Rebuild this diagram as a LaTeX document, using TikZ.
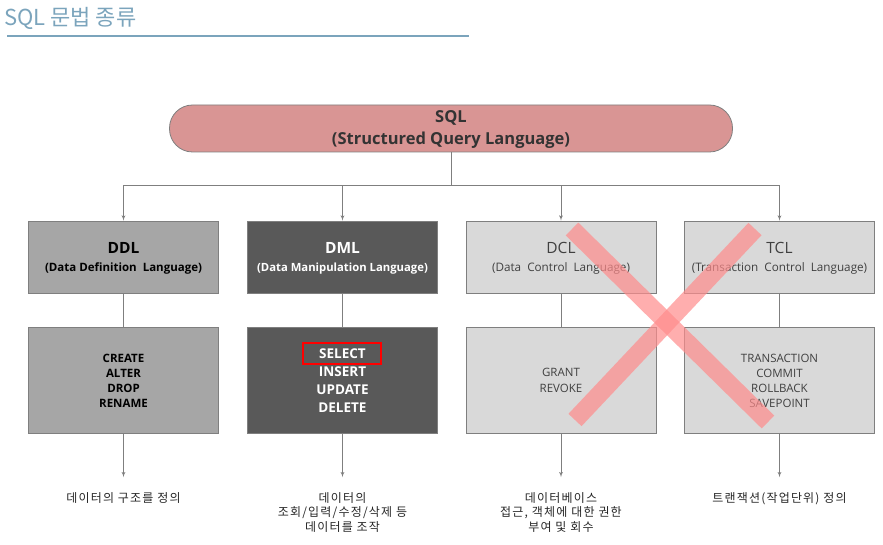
\documentclass[tikz,border=0pt]{standalone}
\usepackage{fontspec}
\setmainfont{Open Sans}
\newfontfamily\kor{Noto Sans CJK KR}
\newfontfamily\kornote[LetterSpace=10]{Noto Sans CJK KR}
\usetikzlibrary{arrows,calc,positioning}
\definecolor{titleblue}{HTML}{7BA4BC}
\definecolor{sqlpink}{HTML}{D99594}
\definecolor{edgegrey}{HTML}{7F7F7F}
\definecolor{ddlgrey}{HTML}{A6A6A6}
\definecolor{dmlgrey}{HTML}{595959}
\definecolor{lightgrey}{HTML}{D9D9D9}
\definecolor{crossred}{HTML}{FF8C8C}
\newcommand\headsize{\fontsize{15.5}{18}\selectfont}
\tikzset{
    pillblock/.style = {draw=edgegrey, fill=sqlpink, rectangle, rounded corners=23pt, minimum height=47pt, minimum width=563pt, align=center, line width=0.8pt, text=black!80, font=\bfseries\fontsize{16.5}{22}\selectfont},
    block/.style = {draw=edgegrey, rectangle, minimum height=72pt, minimum width=190pt, align=center, line width=0.8pt},
    cmdblock/.style = {block, minimum height=106pt},
    ddlfill/.style = {fill=ddlgrey, text=black},
    dmlfill/.style = {fill=dmlgrey, text=white},
    offfill/.style = {fill=lightgrey, text=black!75},
    note/.style = {align=center, inner sep=0pt, anchor=north, font=\kornote\fontsize{12}{14.5}\selectfont, text=black!85},
    arrow/.style = {draw=edgegrey, -latex', line width=0.8pt},
    link/.style = {draw=edgegrey, line width=0.8pt},
}
\begin{document}
\begin{tikzpicture}[x=1pt, y=-1pt, node distance=34pt, >=latex']
    \useasboundingbox (0,0) rectangle (883,545);
    % title
    \node [anchor=west, inner sep=0pt, text=titleblue, font=\kor\fontsize{22}{26}\selectfont] (title) at (4,18) {SQL 문법 종류};
    \draw [titleblue, line width=1.3pt] (7,36) -- (469,36);

    \node [pillblock] (sql) at (451,128.5) {\rule{0pt}{14pt}SQL\\(Structured Query Language)};
    \coordinate (bar) at (451,185);

    \node [block, ddlfill, font=\bfseries\fontsize{11.5}{18}\selectfont] (ddl) at (123.5,257) {\headsize\rule{0pt}{14pt}DDL\\(Data Definition~ Language)};
    \node [block, dmlfill, font=\bfseries\fontsize{11.3}{18}\selectfont] (dml) at (342.5,257) {\headsize\rule{0pt}{14pt}DML\\(Data Manipulation Language)};
    \node [block, offfill, font=\fontsize{11.7}{18}\selectfont] (dcl) at (561,257) {\headsize\rule{0pt}{14pt}DCL\\(Data~ Control~ Language)};
    \node [block, offfill, font=\fontsize{11.7}{18}\selectfont] (tcl) at (779.5,257) {\headsize\rule{0pt}{14pt}TCL\\(Transaction~ Control~ Language)};

    \node [cmdblock, ddlfill, below=of ddl, font=\bfseries\fontsize{11.5}{15}\selectfont] (ddlcmd) {CREATE\\ALTER\\DROP\\RENAME};
    \node [cmdblock, dmlfill, below=of dml, font=\bfseries\fontsize{13.5}{18}\selectfont] (dmlcmd) {SELECT\\INSERT\\UPDATE\\DELETE};
    \node [cmdblock, offfill, below=of dcl, font=\fontsize{11.5}{16}\selectfont] (dclcmd) {GRANT\\REVOKE};
    \node [cmdblock, offfill, below=of tcl, font=\fontsize{11.5}{15}\selectfont] (tclcmd) {TRANSACTION\\COMMIT\\ROLLBACK\\SAVEPOINT};

    \node [note, below=58pt of ddlcmd] (ddlnote) {데이터의 구조를 정의};
    \node [note, below=58pt of dmlcmd] (dmlnote) {데이터의\\조회/입력/수정/삭제 등\\데이터를 조작};
    \node [note, below=58pt of dclcmd] (dclnote) {데이터베이스\\접근, 객체에 대한 권한\\부여 및 회수};
    \node [note, below=58pt of tclcmd] (tclnote) {트랜잭션(작업단위) 정의};

    % tree
    \draw [link] (sql.south) -- (bar);
    \foreach \lang in {ddl,dml,dcl,tcl} {
        \draw [arrow] (bar) -| (\lang.north);
        \draw [link] (\lang.south) -- (\lang cmd.north);
        \draw [arrow, shorten >=15pt] (\lang cmd.south) -- (\lang note.north);
    }

    % SELECT highlight
    \node [draw=red, line width=1.2pt, minimum width=78pt, minimum height=21pt, inner sep=0pt] (selbox) at (342,353.5) {};

    % crossed out
    \draw [crossred, opacity=0.7, line width=18pt] (572,229) -- (768,422);
    \draw [crossred, opacity=0.7, line width=18pt] (755,229) -- (575,420);
\end{tikzpicture}
\end{document}
